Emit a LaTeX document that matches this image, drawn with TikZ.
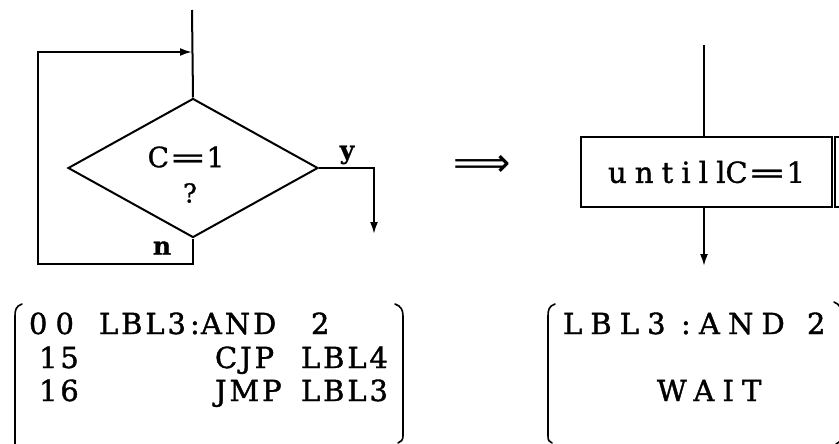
\documentclass[tikz,border=0pt]{standalone}
\usepackage{fontspec}
\setmainfont{DejaVu Serif}[FakeBold=1]
\newfontfamily\codefont[LetterSpace=10,FakeBold=1.3]{DejaVu Serif}
\newfontfamily\widefont[LetterSpace=28,FakeBold=1.3]{DejaVu Serif}
\newfontfamily\arrowfont{DejaVu Sans}
\usetikzlibrary{arrows.meta,shapes.geometric}
\newcommand\longeq{\scalebox{1.6}[1]{=}}

\begin{document}
\begin{tikzpicture}[x=1pt,y=-1pt,line width=2pt,
  tip/.style={-{Latex[length=12pt,width=8pt]}},
  txt/.style={inner sep=0pt,font=\fontsize{28}{30}\selectfont},
  code/.style={inner sep=0pt,anchor=base west,font=\codefont\fontsize{29}{32}\selectfont},
  wcode/.style={inner sep=0pt,anchor=base west,font=\widefont\fontsize{29}{32}\selectfont},
  brk/.style={line width=1.6pt,line cap=round},
]
\useasboundingbox (0,0) rectangle (839,444);
\clip (0,0) rectangle (839,444);

% ---- flowchart: wait loop built from a decision ----
\node[draw,diamond,minimum width=250pt,minimum height=139pt,inner sep=0pt] (dec) at (193,168) {};
\node[txt] (cond) at (186,157) {C\longeq 1};
\node[txt,font=\fontsize{26}{28}\selectfont] (qm) at (190,193) {?};
\coordinate (entry) at (192,10);
\coordinate (join) at (192,52);
\coordinate (lbot) at (38,264);
\coordinate (yout) at (374,234);
\draw (entry) -- (dec.north);
\draw[tip] (dec.south) |- (lbot) |- (join);
\draw[tip] (dec.east) -| (yout);
\node[txt,font=\bfseries\fontsize{25}{26}\selectfont] (ylab) at (347,155) {y};
\node[txt,font=\bfseries\fontsize{25}{26}\selectfont] (nlab) at (162,248) {n};

% ---- transformation arrow ----
\node[inner sep=0pt,font=\arrowfont\fontsize{40}{40}\selectfont] (impl) at (482,166) {⟹};

% ---- flowchart: single wait block ----
\node[draw,minimum width=251pt,minimum height=70pt,inner sep=0pt,
      font=\fontsize{29}{32}\selectfont] (until) at (706.5,172) {{\widefont untill}C\longeq 1};
\node[draw,anchor=west,minimum width=60pt,minimum height=70pt,inner sep=0pt] (nextbox) at (834,172) {};
\coordinate (rtop) at (704,45);
\coordinate (rbot) at (704,266);
\draw (rtop) -- (rtop |- until.north);
\draw[tip] (rtop |- until.south) -- (rbot);

% ---- program before: brackets ----
\draw[brk] (22,304) .. controls (16,306) and (15,310) .. (15,316) -- (15,446);
\draw[brk] (395,304) .. controls (401,306) and (403,310) .. (403,316) -- (403,436)
           .. controls (403,440) and (401,442) .. (398,443);
% ---- program before: code ----
\node[wcode] (a00) at (28,334) {00};
\node[code] (a01) at (98,334) {LBL3};
\node[code] (a02) at (189,334) {:};
\node[code] (a03) at (200,334) {AND};
\node[code] (a04) at (310,334) {2};
\node[code] (a10) at (38,368) {15};
\node[code] (a11) at (214,368) {CJP};
\node[code] (a12) at (300,368) {LBL4};
\node[code] (a20) at (38,401) {16};
\node[code] (a21) at (214,401) {JMP};
\node[code] (a22) at (300,401) {LBL3};

% ---- program after: brackets ----
\draw[brk] (555,304) .. controls (549,306) and (548,310) .. (548,316) -- (548,436)
           .. controls (548,440) and (549,442) .. (552,443);
\draw[brk] (834,302) .. controls (840,304) and (842,310) .. (842,316) -- (842,434)
           .. controls (842,440) and (840,442) .. (836,444);
% ---- program after: code ----
\node[wcode] (b01) at (562,334) {LBL3};
\node[wcode] (b02) at (680,334) {:};
\node[wcode] (b03) at (698,334) {AND};
\node[wcode] (b04) at (806,334) {2};
\node[wcode] (b21) at (656,401) {WAIT};
\end{tikzpicture}
\end{document}
